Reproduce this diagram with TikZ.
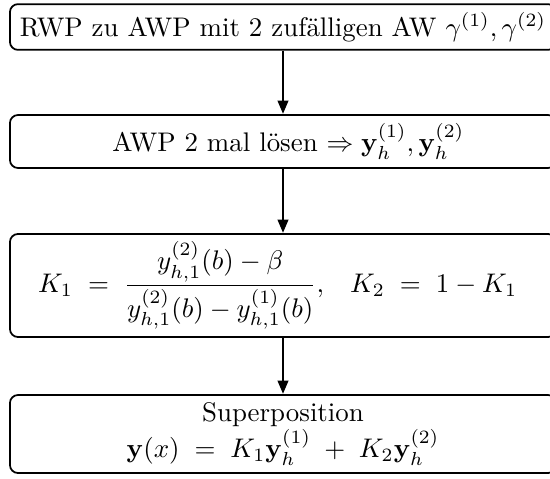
\documentclass[tikz,border=0pt]{standalone}
\usepackage{amsmath,amssymb}
\usepackage{bm}
\usepackage{tikz}
\usetikzlibrary{arrows.meta,positioning}

\begin{document}
\begin{tikzpicture}[x=0.3717pt,y=-0.3717pt,
  stepbox/.style={draw,line width=0.65pt,rounded corners=3pt,minimum width=203pt,align=center,inner sep=2pt},
  flow/.style={line width=1.1pt,-{Triangle[length=5pt,width=3.8pt]}}]
  \clip (0,0) rectangle (550,478);
  \node[stepbox,minimum height=17pt] (rwp) at (283,27) {RWP zu AWP mit 2 zuf\"alligen AW $\gamma^{(1)},\gamma^{(2)}$};
  \node[stepbox,minimum height=19.7pt] (awp) at (283,141.5) {\hspace{4pt}AWP 2 mal l\"osen $\Rightarrow \mathbf{y}_h^{(1)},\mathbf{y}_h^{(2)}$};
  \node[stepbox,minimum height=38.3pt] (konst) at (283,285.5)
    {$K_1\;=\;\dfrac{y_{h,1}^{(2)}(b)-\beta}{y_{h,1}^{(2)}(b)-y_{h,1}^{(1)}(b)},\hspace{8pt}K_2\;=\;1-K_1$\hspace{4pt}};
  \node[stepbox,minimum height=29pt] (super) at (283,434)
    {Superposition\\ $\mathbf{y}(x)\;=\;K_1\mathbf{y}_h^{(1)}\;+\;K_2\mathbf{y}_h^{(2)}$};
  \draw[flow] (rwp) -- (awp);
  \draw[flow] (awp) -- (konst);
  \draw[flow] (konst) -- (super);
\end{tikzpicture}
\end{document}
